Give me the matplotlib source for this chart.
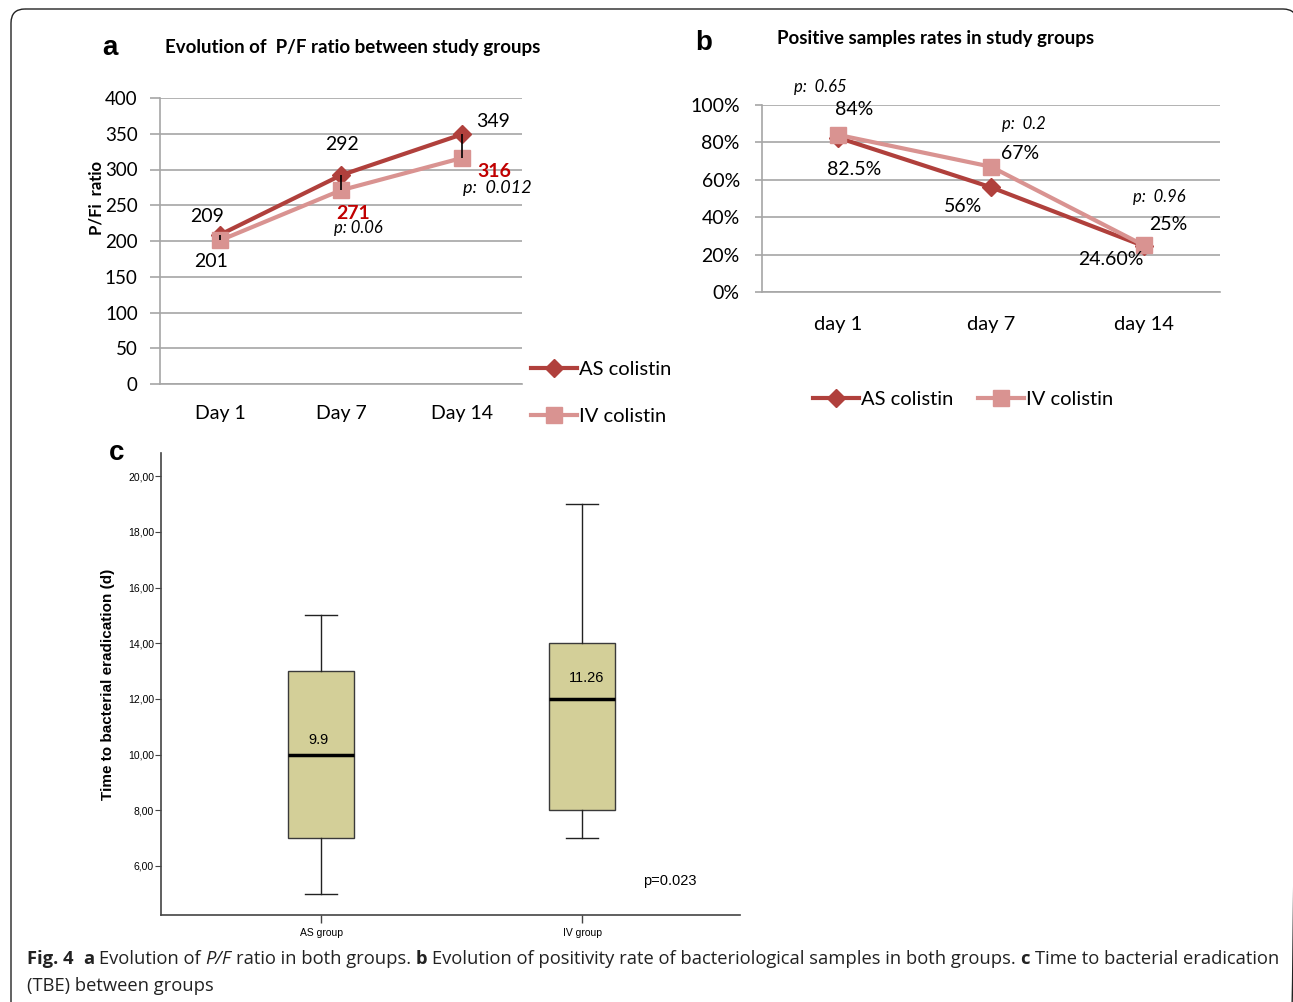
import matplotlib
matplotlib.use("Agg")
import matplotlib.pyplot as plt
from matplotlib.lines import Line2D
from matplotlib.patches import FancyBboxPatch

# ---------------- data ----------------
days_a = ["Day 1", "Day 7", "Day 14"]
pf_as = [209, 292, 349]
pf_iv = [201, 271, 316]
pf_yticks = [0, 50, 100, 150, 200, 250, 300, 350, 400]

days_b = ["day 1", "day 7", "day 14"]
pos_as = [82.5, 56, 24.6]
pos_iv = [84, 67, 25]
pos_as_labels = ["82.5%", "56%", "24.60%"]
pos_iv_labels = ["84%", "67%", "25%"]
pos_pvals = ["p:  0.65", "p:  0.2", "p:  0.96"]
pos_yticks = [0, 20, 40, 60, 80, 100]

groups_c = ["AS group", "IV group"]
tbe_whislo = [5, 7]
tbe_q1 = [7, 8]
tbe_med = [10, 12]
tbe_q3 = [13, 14]
tbe_whishi = [15, 19]
tbe_mean_labels = ["9.9", "11.26"]
tbe_yticks = [6, 8, 10, 12, 14, 16, 18, 20]

C_AS = "#b0403c"
C_IV = "#d99391"
C_RED = "#c00000"
GRID = "#a6a6a6"
BOXC = "#d3cf98"

W, H = 1293, 1002
fig = plt.figure(figsize=(W / 100, H / 100), dpi=100)
FA = ["Lato", "DejaVu Sans"]
FC = ["Liberation Sans Narrow", "Liberation Sans", "DejaVu Sans"]
FC2 = ["Liberation Sans", "DejaVu Sans"]


def box(l, t, r, b):
    return [l / W, 1 - b / H, (r - l) / W, (b - t) / H]


# overlay for frame, panel letters, caption
ov = fig.add_axes([0, 0, 1, 1], zorder=-5)
ov.set_xlim(0, W)
ov.set_ylim(H, 0)
ov.axis("off")
ov.add_patch(FancyBboxPatch((11, 9), 1297 - 11, 1200, boxstyle="round,pad=0,rounding_size=14",
                            fill=False, edgecolor="#222222", lw=1.0, clip_on=False))

# ---------------- panel a ----------------
axa = fig.add_axes(box(160, 98, 522, 384))
x = range(len(days_a))
axa.plot(x, pf_as, color=C_AS, lw=3, marker="D", ms=9, zorder=3)
axa.plot(x, pf_iv, color=C_IV, lw=3, marker="s", ms=11, zorder=3)
axa.vlines(x, pf_iv, pf_as, color="black", lw=1.2, zorder=4)
axa.set_xlim(-0.5, 2.5)
axa.set_ylim(0, 400)
axa.set_yticks(pf_yticks)
axa.set_xticks(list(x))
axa.set_xticklabels(days_a, fontsize=14, family=FA)
for t in axa.get_yticklabels():
    t.set_fontsize(13.5)
    t.set_family(FA)
axa.tick_params(axis="y", length=7, color=GRID, width=1.2, pad=9)
axa.tick_params(axis="x", length=0, pad=15)
axa.grid(axis="y", color=GRID, lw=1.2)
axa.set_axisbelow(True)
for s in ["top", "right"]:
    axa.spines[s].set_visible(False)
for s in ["left", "bottom"]:
    axa.spines[s].set_color(GRID)
    axa.spines[s].set_linewidth(1.2)
axa.set_ylabel("P/Fi  ratio", fontsize=12, fontweight="bold", family=FA, labelpad=0,
               y=(384 - 198) / 286)

ann_a = [
    ("209", 0, pf_as[0], -13, 18, "black", "normal", "normal", 14),
    ("201", 0, pf_iv[0], -9, -21, "black", "normal", "normal", 14),
    ("292", 1, pf_as[1], 1, 31, "black", "normal", "normal", 14),
    ("271", 1, pf_iv[1], 12, -23, C_RED, "bold", "normal", 14),
    ("p: 0.06", 1, pf_iv[1], 17, -38, "black", "normal", "italic", 12),
    ("349", 2, pf_as[2], 31, 13, "black", "normal", "normal", 14),
    ("316", 2, pf_iv[2], 33, -13, C_RED, "bold", "normal", 14),
    ("p:  0.012", 2, pf_iv[2], 36, -30, "black", "normal", "italic", 13),
]
for s, xi, yi, dx, dy, c, wt, st, fs in ann_a:
    axa.annotate(s, xy=(xi, yi), xytext=(dx, dy), textcoords="offset pixels",
                 ha="center", va="center", color=c, fontweight=wt, fontstyle=st,
                 fontsize=fs, family=FA)

h_as = Line2D([], [], color=C_AS, lw=3, marker="D", ms=9)
h_iv = Line2D([], [], color=C_IV, lw=3, marker="s", ms=11)
fig.legend([h_as, h_iv], ["AS colistin", "IV colistin"], loc="center left",
           bbox_to_anchor=(531 / W, 1 - 393 / H), frameon=False,
           prop={"family": FA, "size": 14.5}, handlelength=2.3, handletextpad=0.1,
           labelspacing=1.45, borderpad=0, borderaxespad=0)

ov.text(110, 48, "a", fontsize=20, fontweight="bold", family=FC2, ha="center", va="center")
ov.text(353, 47, "Evolution of  P/F ratio between study groups", fontsize=13.5,
        fontweight="bold", family=FA, ha="center", va="center")

# ---------------- panel b ----------------
axb = fig.add_axes(box(762, 105, 1220, 292))
axb.plot(x, pos_as, color=C_AS, lw=3, marker="D", ms=9, zorder=3)
axb.plot(x, pos_iv, color=C_IV, lw=3, marker="s", ms=11, zorder=3)
axb.set_xlim(-0.5, 2.5)
axb.set_ylim(0, 100)
axb.set_yticks(pos_yticks)
axb.set_yticklabels([f"{v}%" for v in pos_yticks], fontsize=14, family=FA)
axb.set_xticks(list(x))
axb.set_xticklabels(days_b, fontsize=14.5, family=FA)
axb.tick_params(axis="y", length=5, color=GRID, width=1.2, pad=11)
axb.tick_params(axis="x", length=0, pad=17)
axb.grid(axis="y", color=GRID, lw=1.2)
axb.set_axisbelow(True)
for s in ["top", "right"]:
    axb.spines[s].set_visible(False)
for s in ["left", "bottom"]:
    axb.spines[s].set_color(GRID)
    axb.spines[s].set_linewidth(1.2)

off_iv = [(16, 25), (29, 13), (25, 21)]
off_as = [(16, -32), (-28, -19), (-33, -14)]
off_p = [(-18, 48), (33, 43), (16, 48)]
for i in range(3):
    axb.annotate(pos_iv_labels[i], xy=(i, pos_iv[i]), xytext=off_iv[i], textcoords="offset pixels",
                 ha="center", va="center", fontsize=14, family=FA)
    axb.annotate(pos_as_labels[i], xy=(i, pos_as[i]), xytext=off_as[i], textcoords="offset pixels",
                 ha="center", va="center", fontsize=14, family=FA)
    axb.annotate(pos_pvals[i], xy=(i, pos_iv[i]), xytext=off_p[i], textcoords="offset pixels",
                 ha="center", va="center", fontsize=12, fontstyle="italic", family=FA)

fig.legend([h_as, h_iv], ["AS colistin", "IV colistin"], loc="center left",
           bbox_to_anchor=(813 / W, 1 - 399 / H), frameon=False, ncol=2,
           prop={"family": FA, "size": 14.5}, handlelength=2.3, handletextpad=0.1,
           columnspacing=1.2, borderpad=0, borderaxespad=0)

ov.text(704, 43, "b", fontsize=20, fontweight="bold", family=FC2, ha="center", va="center")
ov.text(936, 38, "Positive samples rates in study groups", fontsize=13.5,
        fontweight="bold", family=FA, ha="center", va="center")

# ---------------- panel c ----------------
axc = fig.add_axes(box(161, 453, 740, 915))
stats = []
for i in range(2):
    stats.append(dict(label=groups_c[i], whislo=tbe_whislo[i], q1=tbe_q1[i], med=tbe_med[i],
                      q3=tbe_q3[i], whishi=tbe_whishi[i], fliers=[]))
axc.bxp(stats, positions=[1, 2], widths=0.25, capwidths=0.12, patch_artist=True,
        boxprops=dict(facecolor=BOXC, edgecolor="#3a3a3a", lw=1.0),
        medianprops=dict(color="black", lw=2.5),
        whiskerprops=dict(color="#222222", lw=1.0),
        capprops=dict(color="#222222", lw=1.0))
axc.set_xlim(0.387, 2.605)
axc.set_ylim(4.24, 20.83)
axc.set_yticks(tbe_yticks)
axc.set_yticklabels([f"{v},00" for v in tbe_yticks], fontsize=7.5, family=FC)
axc.set_xticks([1, 2])
axc.set_xticklabels(groups_c, fontsize=7.5, family=FC)
axc.tick_params(axis="y", length=4, width=0.8, pad=1, color="#444444")
axc.tick_params(axis="x", length=6, width=1.0, pad=3, color="#444444")
for s in ["top", "right"]:
    axc.spines[s].set_visible(False)
for s in ["left", "bottom"]:
    axc.spines[s].set_color("#444444")
    axc.spines[s].set_linewidth(1.2)
axc.set_ylabel("Time to bacterial eradication (d)", fontsize=11, fontweight="bold",
               family=FC2, labelpad=9)
mean_off = [(-3, 15), (4, 21)]
for i in range(2):
    axc.annotate(tbe_mean_labels[i], xy=(i + 1, tbe_med[i]), xytext=mean_off[i],
                 textcoords="offset pixels", ha="center", va="center", fontsize=10.5, family=FC)
axc.text((670 - 161) / 579, (915 - 881) / 462, "p=0.023", transform=axc.transAxes,
         ha="center", va="center", fontsize=10.5, family=FC)

ov.text(117, 453, "c", fontsize=20, fontweight="bold", family=FC2, ha="center", va="center")

# ---------------- caption ----------------
fig.canvas.draw()
renderer = fig.canvas.get_renderer()
CAP = ["Open Sans", "DejaVu Sans"]
CFS = 13.2


def width_of(s, wt="normal", st="normal"):
    t = ov.text(0, 0, s, fontsize=CFS, family=CAP, fontweight=wt, fontstyle=st)
    bb = t.get_window_extent(renderer)
    t.remove()
    return bb.width


space = width_of("a a") - width_of("aa")


def runs(line, x0, y):
    xc = x0
    for s, wt, st, gap in line:
        t = ov.text(xc, y, s, fontsize=CFS, family=CAP, fontweight=wt, fontstyle=st,
                    ha="left", va="baseline", color="#222222")
        xc += t.get_window_extent(renderer).width + gap * space


line1 = [("Fig. 4", "bold", "normal", 2), ("a", "bold", "normal", 1),
         ("Evolution of", "normal", "normal", 1), ("P/F", "normal", "italic", 1),
         ("ratio in both groups.", "normal", "normal", 1), ("b", "bold", "normal", 1),
         ("Evolution of positivity rate of bacteriological samples in both groups.", "normal", "normal", 1),
         ("c", "bold", "normal", 1), ("Time to bacterial eradication", "normal", "normal", 0)]
runs(line1, 27, 964)
runs([("(TBE) between groups", "normal", "normal", 0)], 27, 991)

fig.savefig("out.png", dpi=100)
